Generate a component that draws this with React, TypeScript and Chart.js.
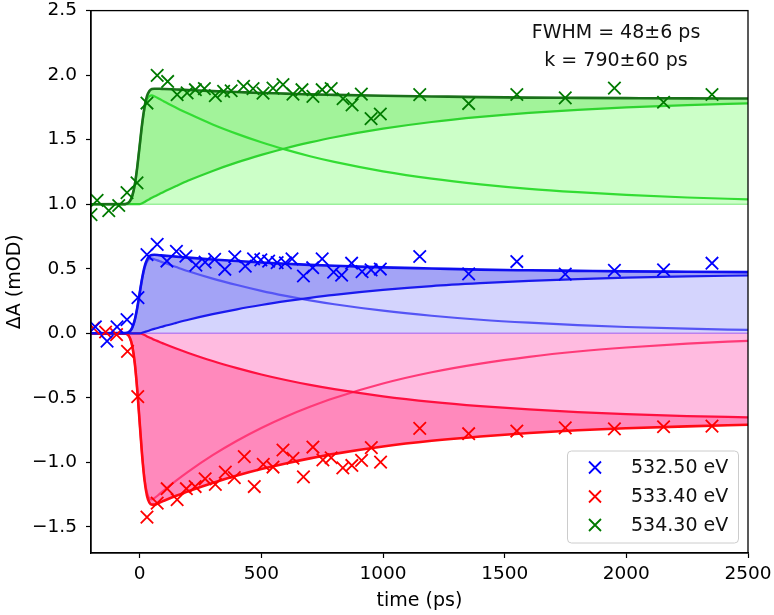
import React, { useEffect, useRef } from 'react';
import { Chart, registerables } from 'chart.js';
Chart.register(...registerables);

// ---------- data ----------
const X_TICKS = [0, 500, 1000, 1500, 2000, 2500];
const Y_TICKS = [-1.5, -1.0, -0.5, 0.0, 0.5, 1.0, 1.5, 2.0, 2.5];
const LEGEND_LABELS = ['532.50 eV', '533.40 eV', '534.30 eV'];
const ANNOTATIONS = ['FWHM = 48±6 ps', 'k = 790±60 ps'];

const FIT_T = [-200, -60, -40, -30, -20, -10, 0, 10, 20, 30, 40, 50, 60, 80, 100, 150, 200, 300, 400, 500, 600, 700, 800, 1000, 1200, 1400, 1600, 1800, 2000, 2250, 2500];

const GREEN_TOTAL = [1.0, 1.001, 1.024, 1.067, 1.152, 1.286, 1.452, 1.621, 1.754, 1.837, 1.877, 1.893, 1.895, 1.895, 1.893, 1.889, 1.885, 1.876, 1.869, 1.862, 1.857, 1.851, 1.847, 1.84, 1.835, 1.83, 1.826, 1.824, 1.822, 1.82, 1.819];
const GREEN_DECAY = [1.0, 1.001, 1.024, 1.067, 1.152, 1.286, 1.452, 1.614, 1.737, 1.808, 1.838, 1.843, 1.836, 1.817, 1.796, 1.748, 1.702, 1.618, 1.545, 1.48, 1.423, 1.372, 1.328, 1.255, 1.198, 1.154, 1.119, 1.093, 1.072, 1.052, 1.038];
const GREEN_RISE = [1.0, 1.0, 1.0, 1.0, 1.0, 1.0, 1.0, 1.007, 1.017, 1.029, 1.039, 1.05, 1.059, 1.078, 1.097, 1.141, 1.183, 1.258, 1.324, 1.382, 1.434, 1.479, 1.519, 1.585, 1.637, 1.676, 1.707, 1.731, 1.75, 1.768, 1.781];

const BLUE_TOTAL = [0, 0.001, 0.016, 0.046, 0.104, 0.196, 0.31, 0.425, 0.515, 0.57, 0.597, 0.607, 0.608, 0.605, 0.602, 0.594, 0.586, 0.572, 0.56, 0.548, 0.539, 0.53, 0.523, 0.511, 0.502, 0.493, 0.488, 0.484, 0.48, 0.477, 0.474];
const BLUE_DECAY = [0, 0.001, 0.016, 0.046, 0.104, 0.196, 0.31, 0.421, 0.505, 0.554, 0.575, 0.578, 0.574, 0.56, 0.546, 0.513, 0.481, 0.424, 0.374, 0.329, 0.29, 0.255, 0.225, 0.175, 0.136, 0.105, 0.082, 0.064, 0.049, 0.036, 0.026];
const BLUE_RISE = [0, 0, 0, 0, 0, 0, 0, 0.004, 0.01, 0.016, 0.022, 0.029, 0.034, 0.045, 0.056, 0.081, 0.105, 0.148, 0.186, 0.219, 0.249, 0.275, 0.298, 0.336, 0.366, 0.388, 0.406, 0.42, 0.431, 0.441, 0.448];

const RED_TOTAL = [0, -0.002, -0.036, -0.102, -0.232, -0.436, -0.69, -0.943, -1.139, -1.258, -1.312, -1.327, -1.327, -1.313, -1.297, -1.259, -1.223, -1.159, -1.102, -1.052, -1.008, -0.969, -0.934, -0.877, -0.833, -0.799, -0.772, -0.751, -0.736, -0.721, -0.709];
const RED_DECAY = [0, -0.002, -0.036, -0.102, -0.232, -0.436, -0.69, -0.937, -1.125, -1.234, -1.279, -1.286, -1.277, -1.248, -1.216, -1.141, -1.071, -0.944, -0.832, -0.733, -0.646, -0.569, -0.501, -0.389, -0.302, -0.235, -0.182, -0.141, -0.11, -0.08, -0.058];
const RED_RISE = [0, 0, 0, 0, 0, 0, 0, -0.006, -0.014, -0.024, -0.033, -0.041, -0.05, -0.065, -0.081, -0.118, -0.152, -0.215, -0.27, -0.319, -0.362, -0.4, -0.433, -0.488, -0.531, -0.564, -0.59, -0.61, -0.626, -0.641, -0.651];

const GREEN_T = [-200, -175, -127, -86, -52, -11, 30, 72, 115, 154, 195, 229, 266, 311, 345, 376, 427, 466, 507, 548, 589, 630, 667, 712, 750, 787, 836, 873, 911, 951, 989, 1151, 1352, 1550, 1749, 1951, 2153, 2352];
const GREEN_V = [0.92, 1.03, 0.95, 0.99, 1.09, 1.165, 1.784, 1.998, 1.951, 1.849, 1.862, 1.887, 1.895, 1.841, 1.874, 1.879, 1.913, 1.895, 1.861, 1.9, 1.926, 1.853, 1.887, 1.836, 1.887, 1.895, 1.817, 1.77, 1.853, 1.663, 1.699, 1.849, 1.78, 1.85, 1.824, 1.9, 1.79, 1.85];

const BLUE_T = [-182, -134, -93, -52, -7, 30, 72, 112, 151, 190, 231, 269, 308, 350, 391, 434, 468, 498, 530, 565, 599, 626, 673, 711, 750, 797, 830, 871, 914, 951, 989, 1151, 1352, 1550, 1749, 1951, 2153, 2352];
const BLUE_V = [0.05, -0.06, 0.05, 0.106, 0.277, 0.61, 0.689, 0.56, 0.635, 0.597, 0.528, 0.551, 0.573, 0.496, 0.593, 0.52, 0.577, 0.569, 0.559, 0.547, 0.545, 0.577, 0.444, 0.508, 0.576, 0.474, 0.451, 0.543, 0.478, 0.492, 0.498, 0.595, 0.461, 0.556, 0.458, 0.487, 0.492, 0.543];

const RED_T = [-190, -140, -95, -50, -8, 30, 72, 113, 154, 192, 228, 269, 311, 352, 389, 430, 471, 508, 548, 589, 630, 673, 712, 753, 787, 835, 872, 912, 952, 990, 1151, 1352, 1550, 1749, 1951, 2153, 2352];
const RED_V = [0.04, 0.01, -0.01, -0.14, -0.49, -1.424, -1.315, -1.204, -1.289, -1.204, -1.187, -1.127, -1.171, -1.075, -1.118, -0.955, -1.187, -1.016, -1.036, -0.904, -0.968, -1.112, -0.881, -0.98, -0.964, -1.042, -1.024, -0.985, -0.885, -0.998, -0.737, -0.778, -0.757, -0.732, -0.74, -0.724, -0.719];

const X_RANGE = [-200, 2500];
const Y_RANGE = [-1.702, 2.5];
const GREEN_BASE = 1.0;
const ZERO_BASE = 0.0;

// ---------- styling ----------
const FONT = 'DejaVu Sans';
const MARKER_COLORS = ['#0000ff', '#ff0000', '#007a00'];

const zip = (xs: number[], ys: number[]) => xs.map((x, i) => ({ x, y: ys[i] }));

function drawX(ctx: CanvasRenderingContext2D, x: number, y: number, h: number, color: string) {
  ctx.save();
  ctx.strokeStyle = color;
  ctx.lineWidth = 1.8;
  ctx.beginPath();
  ctx.moveTo(x - h, y - h);
  ctx.lineTo(x + h, y + h);
  ctx.moveTo(x - h, y + h);
  ctx.lineTo(x + h, y - h);
  ctx.stroke();
  ctx.restore();
}

const decorPlugin = {
  id: 'decor',
  afterDraw(chart: any) {
    const { ctx, chartArea } = chart;
    const { left, right, top, bottom } = chartArea;
    ctx.save();
    // frame
    ctx.strokeStyle = '#000';
    ctx.lineWidth = 1.3;
    ctx.strokeRect(left, top, right - left, bottom - top);
    // annotation
    ctx.fillStyle = '#111';
    ctx.font = `19px "${FONT}"`;
    ctx.textAlign = 'center';
    ctx.textBaseline = 'middle';
    ctx.fillText(ANNOTATIONS[0], 616, 33);
    ctx.fillText(ANNOTATIONS[1], 616, 61);
    // axis titles
    ctx.fillStyle = '#000';
    ctx.fillText('time (ps)', (left + right) / 2, 601);
    ctx.save();
    ctx.translate(15, (top + bottom) / 2);
    ctx.rotate(-Math.PI / 2);
    ctx.fillText('ΔA (mOD)', 0, 0);
    ctx.restore();
    // legend
    const lx = 567.5, ly = 451, lw = 171, lh = 92, r = 4;
    ctx.beginPath();
    ctx.moveTo(lx + r, ly);
    ctx.lineTo(lx + lw - r, ly);
    ctx.quadraticCurveTo(lx + lw, ly, lx + lw, ly + r);
    ctx.lineTo(lx + lw, ly + lh - r);
    ctx.quadraticCurveTo(lx + lw, ly + lh, lx + lw - r, ly + lh);
    ctx.lineTo(lx + r, ly + lh);
    ctx.quadraticCurveTo(lx, ly + lh, lx, ly + lh - r);
    ctx.lineTo(lx, ly + r);
    ctx.quadraticCurveTo(lx, ly, lx + r, ly);
    ctx.closePath();
    ctx.fillStyle = 'rgba(255,255,255,0.8)';
    ctx.fill();
    ctx.strokeStyle = '#cccccc';
    ctx.lineWidth = 1;
    ctx.stroke();
    const rows = [467.5, 496.5, 525];
    ctx.textAlign = 'left';
    rows.forEach((yy, i) => {
      drawX(ctx, 595, yy, 6, MARKER_COLORS[i]);
      ctx.fillStyle = '#111';
      ctx.fillText(LEGEND_LABELS[i], 631, yy + 1);
    });
    ctx.restore();
  },
};

const zeroPad = (s: any) => {
  s.paddingTop = 0;
  s.paddingBottom = 0;
  s.paddingLeft = 0;
  s.paddingRight = 0;
};

export default function App() {
  const ref = useRef<HTMLCanvasElement | null>(null);
  useEffect(() => {
    document.body.style.margin = '0';
    const canvas = ref.current!;
    const line = (data: any[], color: string, width: number, order: number, extra: any = {}) => ({
      type: 'line',
      data,
      borderColor: color,
      borderWidth: width,
      pointRadius: 0,
      cubicInterpolationMode: 'monotone',
      fill: false,
      order,
      ...extra,
    });
    const markers = (xs: number[], ys: number[], color: string) => ({
      type: 'scatter',
      data: zip(xs, ys),
      showLine: false,
      pointStyle: 'crossRot',
      pointRadius: 8.8,
      pointBorderWidth: 1.8,
      pointBorderColor: color,
      pointBackgroundColor: color,
      borderColor: color,
      clip: 0,
      order: 0,
    });
    const datasets: any[] = [
      line(zip(FIT_T, GREEN_RISE), '#2fd42f', 2.2, 3, { fill: { value: GREEN_BASE }, backgroundColor: '#ccffc8' }),
      line(zip(FIT_T, GREEN_DECAY), '#33dd33', 2.2, 3),
      line(zip(FIT_T, GREEN_TOTAL), '#1a701a', 2.6, 2, { fill: 0, backgroundColor: '#a2f39a' }),
      line(zip(FIT_T, BLUE_RISE), '#1a1aee', 2.2, 3, { fill: { value: ZERO_BASE }, backgroundColor: '#d4d4fd' }),
      line(zip(FIT_T, BLUE_DECAY), '#5555f5', 2.2, 3),
      line(zip(FIT_T, BLUE_TOTAL), '#0e0ef0', 2.6, 2, { fill: 3, backgroundColor: '#a3a3f6' }),
      line(zip(FIT_T, RED_RISE), '#ff1040', 2.2, 3, { fill: { value: ZERO_BASE }, backgroundColor: '#ffbbe0' }),
      line(zip(FIT_T, RED_DECAY), '#ff3a78', 2.2, 3),
      line(zip(FIT_T, RED_TOTAL), '#ff0a14', 2.6, 2, { fill: 6, backgroundColor: '#ff89bc' }),
      line([{ x: X_RANGE[0], y: GREEN_BASE }, { x: X_RANGE[1], y: GREEN_BASE }], '#9af09a', 1.5, 4),
      line([{ x: X_RANGE[0], y: ZERO_BASE }, { x: X_RANGE[1], y: ZERO_BASE }], '#bb80ee', 1.5, 4),
      markers(BLUE_T, BLUE_V, MARKER_COLORS[0]),
      markers(RED_T, RED_V, MARKER_COLORS[1]),
      markers(GREEN_T, GREEN_V, MARKER_COLORS[2]),
    ];
    const tickFont = { family: FONT, size: 18.5 };
    const chart = new Chart(canvas, {
      type: 'line',
      data: { datasets },
      options: {
        animation: false,
        responsive: false,
        layout: { padding: { top: 9, right: 26, left: 0, bottom: 0 } },
        plugins: {
          legend: { display: false },
          tooltip: { enabled: false },
          filler: { drawTime: 'beforeDatasetsDraw' },
        },
        scales: {
          x: {
            type: 'linear',
            min: X_RANGE[0],
            max: X_RANGE[1],
            afterBuildTicks: (s: any) => { s.ticks = X_TICKS.map((v) => ({ value: v })); },
            afterFit: (s: any) => { s.height = 62; zeroPad(s); },
            ticks: { font: tickFont, color: '#000', padding: 5, maxRotation: 0, callback: (v: any) => String(v) },
            grid: { drawOnChartArea: false, tickLength: 5, tickWidth: 1.2, tickColor: '#000' },
            border: { color: '#000', width: 1.3 },
          },
          y: {
            type: 'linear',
            min: Y_RANGE[0],
            max: Y_RANGE[1],
            afterBuildTicks: (s: any) => { s.ticks = Y_TICKS.map((v) => ({ value: v })); },
            afterFit: (s: any) => { s.width = 91; zeroPad(s); },
            ticks: { font: tickFont, color: '#000', padding: 9, callback: (v: any) => Number(v).toFixed(1).replace('-', '−') },
            grid: { drawOnChartArea: false, tickLength: 5, tickWidth: 1.2, tickColor: '#000' },
            border: { color: '#000', width: 1.3 },
          },
        },
      } as any,
      plugins: [decorPlugin],
    });
    return () => chart.destroy();
  }, []);
  return (
    <div style={{ position: 'absolute', left: 0, top: 0, width: 774, height: 615, background: '#fff' }}>
      <canvas ref={ref} width={774} height={615} style={{ width: 774, height: 615, display: 'block' }} />
    </div>
  );
}
